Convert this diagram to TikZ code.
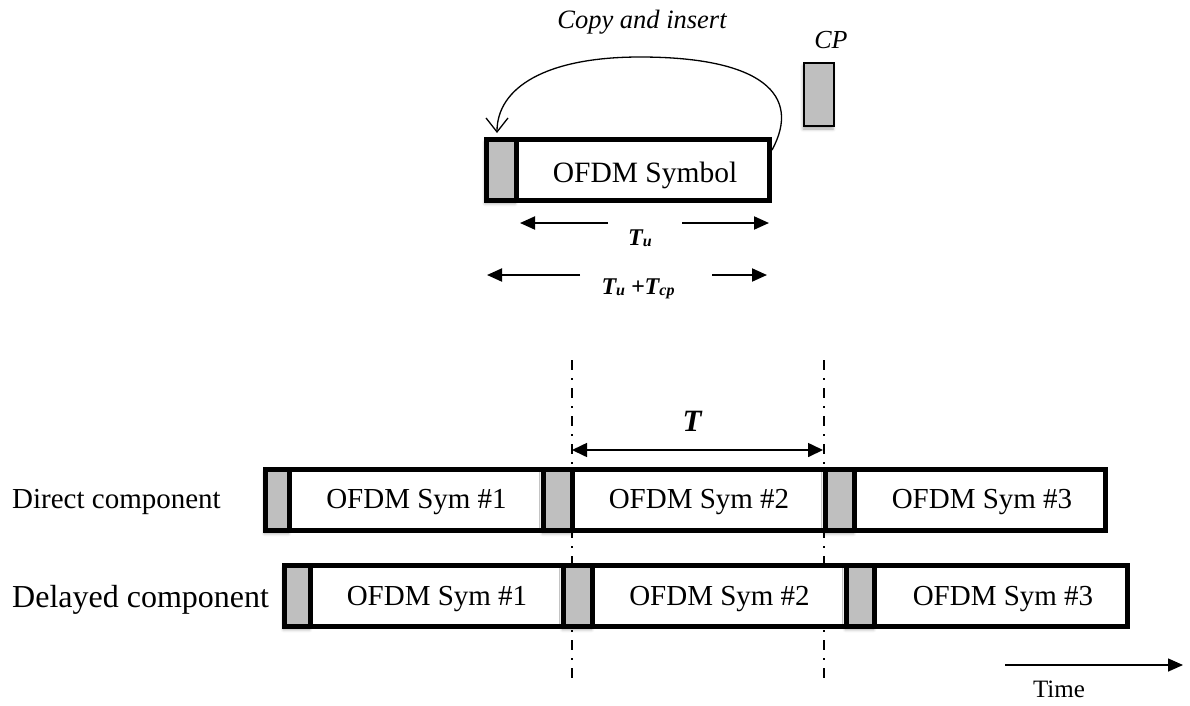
\documentclass[tikz,border=0pt]{standalone}
\usepackage{fontspec}
\setmainfont{Liberation Serif}
\usetikzlibrary{arrows.meta,shadows.blur}
\definecolor{cpgray}{RGB}{191,191,191}

% font size helper and lowered subscript
\newcommand{\fsz}[1]{\fontsize{#1}{#1}\selectfont}
\newcommand{\lowsub}[1]{{\fsz{16}\raisebox{-0.12em}{#1}}}

\begin{document}
\begin{tikzpicture}[x=1pt,y=-1pt,
  symrow/.style={draw,line width=5pt,fill=white,inner sep=0pt,minimum height=61pt},
  cpbox/.style={draw,line width=5pt,fill=cpgray,inner sep=0pt,minimum height=61pt,
    blur shadow={shadow xshift=-1pt,shadow yshift=-3pt,shadow opacity=35,shadow blur radius=3pt}},
  lbl/.style={inner sep=0pt,anchor=base},
  dimarrow/.style={line width=2pt,-{Triangle[length=15pt,width=13pt]}},
  tarrow/.style={line width=1.6pt,{Triangle[length=15pt,width=14pt]}-{Triangle[length=15pt,width=14pt]}},
  guide/.style={line width=2pt,dash pattern=on 10pt off 8pt on 2pt off 8pt},
  copyarrow/.style={line width=1.3pt,-{Straight Barb[length=14pt,width=22pt,line width=1.3pt]}}
]
\useasboundingbox (0,0) rectangle (1190,705);

% ---------- cyclic prefix construction ----------
\node[lbl,font=\fsz{26.5}\itshape] (copy) at (642,28) {Copy and insert};
\node[lbl,font=\fsz{26}\itshape] (cplbl) at (831,48) {CP};
\node[draw,line width=1.5pt,fill=cpgray,inner sep=0pt,minimum width=30pt,minimum height=63pt,
  blur shadow={shadow xshift=-1pt,shadow yshift=-3pt,shadow opacity=35,shadow blur radius=3pt}]
  (cpsample) at (819,94.5) {};

\node[symrow,minimum width=283pt] (sym) at (628,170) {};
\node[cpbox,minimum width=30pt] (symcp) at (501,170) {};
\node[lbl,font=\fsz{29.5}] (symtxt) at (645,182) {OFDM Symbol};

\draw[copyarrow] ([yshift=20pt]sym.east)
  .. controls (802,95) and (762,57) .. (640,57)
  .. controls (545,57) and (497,88) .. ([xshift=-4pt,yshift=4pt]symcp.north);

% durations
\node[lbl,font=\fsz{24}\bfseries\itshape] (tu) at (640,245) {T\lowsub{u}};
\coordinate (tuLs) at (608,223);
\coordinate (tuLe) at (520,223);
\coordinate (tuRs) at (682,223);
\coordinate (tuRe) at (769,223);
\draw[dimarrow] (tuLs) -- (tuLe);
\draw[dimarrow] (tuRs) -- (tuRe);

\node[lbl,font=\fsz{24}\bfseries\itshape] (tutcp) at (638,294) {T\lowsub{u} +T\lowsub{cp}};
\coordinate (tcLs) at (580,275);
\coordinate (tcLe) at (487,275);
\coordinate (tcRs) at (712,275);
\coordinate (tcRe) at (767,275);
\draw[dimarrow] (tcLs) -- (tcLe);
\draw[dimarrow] (tcRs) -- (tcRe);

% ---------- symbol period guides ----------
\coordinate (g1top) at (572,360);
\coordinate (g1bot) at (572,683);
\coordinate (g2top) at (824,360);
\coordinate (g2bot) at (824,680);
\draw[guide] (g1top) -- (g1bot);
\draw[guide] (g2top) -- (g2bot);

\coordinate (tA) at (572,450);
\coordinate (tB) at (823,450);
\draw[tarrow] (tA) -- (tB);
\node[lbl,font=\fsz{31}\bfseries\itshape] (tlbl) at (692,431) {T};

% ---------- direct component ----------
\node[lbl,anchor=base west,font=\fsz{29}] (dlbl) at (12,508) {Direct component};
\node[symrow,minimum width=840pt] (drow) at (685.5,500) {};
\node[cpbox,minimum width=24pt] (dcp1) at (277.5,500) {};
\node[cpbox,minimum width=29pt] (dcp2) at (558,500) {};
\node[cpbox,minimum width=29pt] (dcp3) at (840,500) {};
\node[lbl,font=\fsz{29}] (ds1) at (416.5,508) {OFDM Sym \#1};
\node[lbl,font=\fsz{29}] (ds2) at (699,508) {OFDM Sym \#2};
\node[lbl,font=\fsz{29}] (ds3) at (982,508) {OFDM Sym \#3};

% ---------- delayed component ----------
\node[lbl,anchor=base west,font=\fsz{32}] (ylbl) at (12,607) {Delayed component};
\node[symrow,minimum width=843pt] (yrow) at (706,596) {};
\node[cpbox,minimum width=26pt] (ycp1) at (297.5,596) {};
\node[cpbox,minimum width=29pt] (ycp2) at (578,596) {};
\node[cpbox,minimum width=28pt] (ycp3) at (860.5,596) {};
\node[lbl,font=\fsz{29}] (ys1) at (437,605) {OFDM Sym \#1};
\node[lbl,font=\fsz{29}] (ys2) at (719.5,605) {OFDM Sym \#2};
\node[lbl,font=\fsz{29}] (ys3) at (1003,605) {OFDM Sym \#3};

% ---------- time axis ----------
\coordinate (time0) at (1005,665);
\coordinate (time1) at (1183,665);
\draw[line width=1.5pt,-{Triangle[length=15pt,width=13pt]}] (time0) -- (time1);
\node[lbl,font=\fsz{25}] (timelbl) at (1059,697) {Time};
\end{tikzpicture}
\end{document}
